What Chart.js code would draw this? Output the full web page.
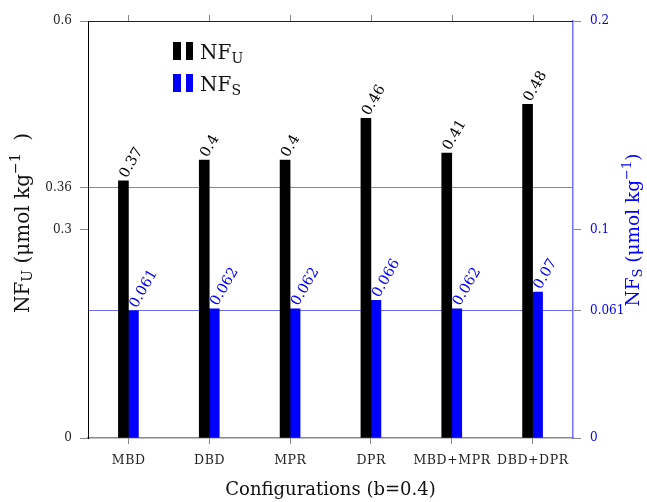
<!DOCTYPE html>
<html>
<head>
<meta charset="utf-8">
<script src="https://cdn.jsdelivr.net/npm/chart.js@4.4.0/dist/chart.umd.min.js"></script>
<style>
  html, body { margin: 0; padding: 0; background: #fff; }
  #wrap { width: 647px; height: 502px; }
</style>
</head>
<body>
<div id="wrap"><canvas id="myChart" width="647" height="502"></canvas></div>
<script>
// data
const configs = ['MBD', 'DBD', 'MPR', 'DPR', 'MBD+MPR', 'DBD+DPR'];
const nfU = [0.37, 0.4, 0.4, 0.46, 0.41, 0.48];
const nfS = [0.061, 0.062, 0.062, 0.066, 0.062, 0.07];
const leftTicks = [0, 0.3, 0.36, 0.6];
const rightTicks = [0, 0.061, 0.1, 0.2];

const SERIF = '"DejaVu Serif", serif';
const BLUE = '#0000ff';

// draws text pieces with sub/superscripts, centred at 0,0 of current transform
function drawRich(ctx, parts, color) {
  let total = 0;
  parts.forEach(p => {
    ctx.font = p.size + 'px ' + SERIF;
    p.w = ctx.measureText(p.t).width;
    total += p.w;
  });
  let x = -total / 2;
  ctx.fillStyle = color;
  ctx.textBaseline = 'alphabetic';
  ctx.textAlign = 'left';
  parts.forEach(p => {
    ctx.font = p.size + 'px ' + SERIF;
    ctx.fillText(p.t, x, 7 + (p.dy || 0));
    x += p.w;
  });
}

const extras = {
  id: 'extras',
  afterDraw(chart) {
    const ctx = chart.ctx;
    const a = chart.chartArea;
    const xs = chart.scales.x;
    ctx.save();

    // frame top + top ticks
    ctx.strokeStyle = '#222';
    ctx.lineWidth = 1;
    ctx.beginPath();
    ctx.moveTo(a.left, a.top + 0.5);
    ctx.lineTo(a.right, a.top + 0.5);
    ctx.stroke();
    ctx.strokeStyle = '#888';
    configs.forEach((c, i) => {
      const px = Math.round(xs.getPixelForValue(i)) + 0.5;
      ctx.beginPath();
      ctx.moveTo(px, a.top);
      ctx.lineTo(px, a.top - 6);
      ctx.stroke();
    });

    // x labels
    ctx.fillStyle = '#222';
    ctx.font = '12.5px ' + SERIF;
    ctx.letterSpacing = '0.6px';
    ctx.textAlign = 'left';
    ctx.textBaseline = 'middle';
    configs.forEach((c, i) => {
      const w = ctx.measureText(c).width - 0.6;
      ctx.fillText(c, xs.getPixelForValue(i) - w / 2, 461);
    });
    ctx.letterSpacing = '0px';

    // value labels
    [[0, nfU, '#000'], [1, nfS, BLUE]].forEach(([di, vals, col]) => {
      const meta = chart.getDatasetMeta(di);
      ctx.font = '14.5px ' + SERIF;
      ctx.fillStyle = col;
      ctx.textAlign = 'left';
      ctx.textBaseline = 'middle';
      meta.data.forEach((bar, i) => {
        ctx.save();
        ctx.translate(bar.x, bar.y - 4);
        ctx.rotate(-Math.PI / 3);
        ctx.fillText(String(vals[i]), 0, 0);
        ctx.restore();
      });
    });

    // axis titles
    ctx.save();
    ctx.translate((a.left + a.right) / 2, 488);
    drawRich(ctx, [{ t: 'Configurations (b=0.4)', size: 18 }], '#111');
    ctx.restore();

    ctx.save();
    ctx.translate(22, 223);
    ctx.rotate(-Math.PI / 2);
    drawRich(ctx, [
      { t: 'NF', size: 20 }, { t: 'U', size: 14, dy: 3 },
      { t: ' (μmol kg', size: 20 }, { t: '−1', size: 14, dy: -9 }, { t: '  )', size: 20 }
    ], '#111');
    ctx.restore();

    ctx.save();
    ctx.translate(632, 230);
    ctx.rotate(-Math.PI / 2);
    drawRich(ctx, [
      { t: 'NF', size: 18.5 }, { t: 'S', size: 13, dy: 3 },
      { t: ' (μmol kg', size: 18.5 }, { t: '−1', size: 13, dy: -8 }, { t: ')', size: 18.5 }
    ], BLUE);
    ctx.restore();

    // legend
    [[chart.data.datasets[0].backgroundColor, 'U', 51], [chart.data.datasets[1].backgroundColor, 'S', 83]].forEach(([col, sub, cy]) => {
      ctx.fillStyle = col;
      ctx.fillRect(173, cy - 9, 8, 18);
      ctx.fillRect(186, cy - 9, 7, 18);
      ctx.save();
      ctx.translate(200, cy);
      ctx.font = '20px ' + SERIF;
      ctx.fillStyle = '#111';
      ctx.textAlign = 'left';
      ctx.textBaseline = 'alphabetic';
      ctx.fillText('NF', 0, 8);
      const w = ctx.measureText('NF').width;
      ctx.font = '14px ' + SERIF;
      ctx.fillText(sub, w, 12);
      ctx.restore();
    });

    ctx.restore();
  }
};

let ctx = document.getElementById('myChart');
let myChart = new Chart(ctx, {
  type: 'bar',
  data: {
    labels: configs,
    datasets: [{
      label: 'NF_U',
      data: nfU,
      yAxisID: 'y',
      backgroundColor: '#000000',
      barThickness: 10
    }, {
      label: 'NF_S',
      data: nfS,
      yAxisID: 'y1',
      backgroundColor: BLUE,
      barThickness: 10
    }]
  },
  options: {
    responsive: false,
    animation: false,
    layout: { padding: { top: 21, left: 0, right: 0, bottom: 0 } },
    plugins: {
      legend: { display: false },
      tooltip: { enabled: false }
    },
    scales: {
      x: {
        offset: true,
        grid: {
          offset: false,
          drawOnChartArea: false,
          drawTicks: true,
          tickLength: 6,
          tickColor: '#888'
        },
        border: { display: true, color: '#888', width: 1.5 },
        ticks: { display: false },
        afterFit: s => { s.height = 64; }
      },
      y: {
        position: 'left',
        min: 0,
        max: 0.6,
        afterBuildTicks: s => { s.ticks = leftTicks.map(v => ({ value: v })); },
        grid: {
          color: c => (c.tick && c.tick.value === 0.36) ? '#888' : 'rgba(0,0,0,0)',
          tickColor: '#888',
          tickLength: 8
        },
        border: { display: true, color: '#000', width: 1 },
        ticks: {
          font: { family: SERIF, size: 12 },
          color: '#222',
          padding: 8,
          callback: v => String(v)
        },
        afterFit: s => { s.width = 88; }
      },
      y1: {
        position: 'right',
        min: 0,
        max: 0.2,
        afterBuildTicks: s => { s.ticks = rightTicks.map(v => ({ value: v })); },
        grid: {
          color: c => (c.tick && c.tick.value === 0.061) ? 'rgba(60,60,230,0.75)' : 'rgba(0,0,0,0)',
          tickColor: '#888',
          tickLength: 8
        },
        border: { display: true, color: '#7070ff', width: 1.5 },
        ticks: {
          font: { family: SERIF, size: 12 },
          color: BLUE,
          padding: 9,
          callback: v => String(v)
        },
        afterFit: s => { s.width = 74; }
      }
    }
  },
  plugins: [extras]
});
</script>
</body>
</html>
